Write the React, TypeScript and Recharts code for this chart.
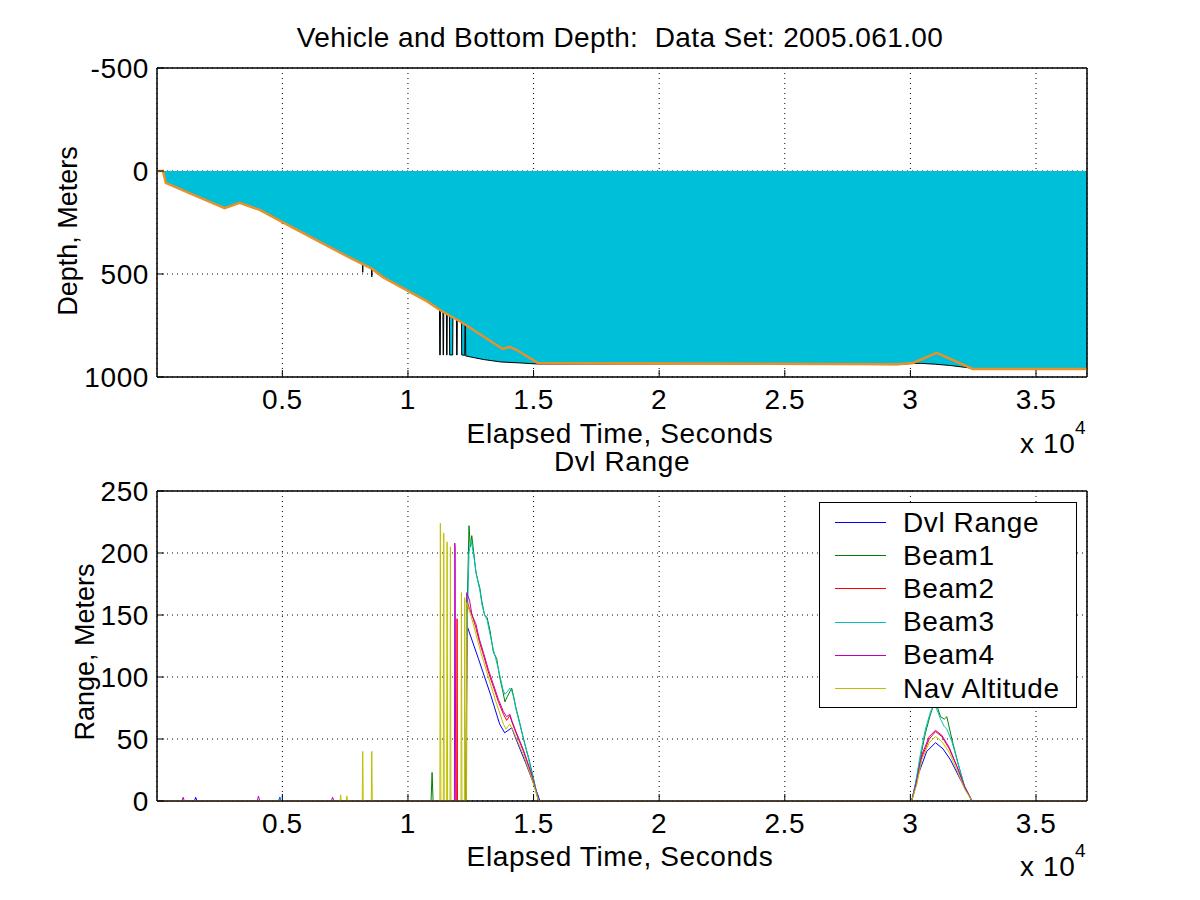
import React from 'react'
import { ComposedChart, Line, Area, XAxis, YAxis, CartesianGrid, Legend, ReferenceArea } from 'recharts'

const FONT = '"Liberation Sans", Arial, Helvetica, sans-serif'

const timeTicks = [5000, 10000, 15000, 20000, 25000, 30000, 35000]
const timeDomain = [10, 37030]
const depthTicks = [-500, 0, 500, 1000]
const depthDomain = [-500, 1000]
const rangeTicks = [0, 50, 100, 150, 200, 250]
const rangeDomain = [0, 250]

// [elapsed seconds, depth in meters]
const vehicleDepth = [
  [10, 0], [240, 0], [300, 25], [360, 58], [1300, 107], [2700, 180], [3300, 155], [4100, 189],
  [5000, 248], [7700, 422], [8200, 452], [8560, 474], [9000, 515], [10070, 587], [10750, 632],
  [11270, 675], [12180, 738], [13770, 864], [14050, 854], [14330, 869], [15170, 932],
  [22000, 934], [29500, 938], [30100, 932], [31050, 883], [32480, 961], [37030, 961],
]

const bottomDepth = [
  [10, 0], [240, 0], [300, 25], [360, 58], [1300, 107], [2700, 180], [3300, 155], [4100, 189],
  [5000, 248], [7700, 422], [8185, 451], [8200, 492], [8215, 452], [8545, 473], [8560, 514],
  [8575, 475], [9000, 515], [10070, 587], [10750, 632],
  [11255, 674], [11265, 893], [11285, 893], [11295, 677],
  [11390, 683], [11400, 893], [11415, 893], [11425, 686],
  [11530, 693], [11540, 893], [11555, 893], [11565, 695],
  [11650, 701], [11660, 893], [11780, 893], [11790, 710],
  [11930, 720], [11940, 893], [11955, 893], [11965, 722],
  [12130, 734], [12140, 893], [12260, 895], [12270, 745], [12290, 746],
  [12300, 898], [13000, 915], [13700, 927], [14500, 932], [15170, 937],
  [22000, 936], [29500, 940], [30100, 934], [30450, 934], [31000, 938], [31570, 944],
  [32365, 956], [32480, 961], [37030, 961],
]

// [elapsed seconds, range in meters]
const dvlRange = [
  [10, 0], [1500, 0], [1550, 3], [1600, 0], [4850, 0], [4900, 3], [4950, 0], [12320, 0],
  [12340, 142], [12800, 115], [13300, 85], [13650, 62], [13850, 55], [14130, 59], [14300, 50],
  [14700, 30], [15170, 5], [15250, 0], [30050, 0], [30250, 18], [30650, 40], [31000, 47],
  [31300, 42], [31600, 33], [32050, 15], [32450, 0], [37030, 0],
]

const beam1 = [
  [10, 0], [10920, 0], [10960, 23], [11000, 0], [12300, 0], [12310, 35], [12330, 76],
  [12360, 160], [12430, 222], [12480, 205], [12540, 214], [12620, 200], [12700, 185],
  [12780, 178], [12860, 172], [12950, 160], [13050, 150], [13150, 148], [13260, 138],
  [13400, 120], [13530, 115], [13650, 100], [13780, 88], [13860, 80], [13950, 84],
  [14050, 88], [14130, 91], [14200, 85], [14300, 75], [14450, 63], [14600, 50], [14800, 35],
  [15000, 18], [15200, 0], [30050, 0], [30200, 12], [30400, 35], [30600, 55], [30800, 70],
  [30950, 79], [31050, 77], [31200, 68], [31350, 66], [31450, 68], [31650, 50], [31900, 30],
  [32150, 12], [32450, 0], [37030, 0],
]

const beam2 = [
  [10, 0], [11940, 0], [11955, 147], [11970, 0], [12330, 0], [12345, 162], [12450, 155],
  [12550, 150], [12700, 140], [12850, 128], [13000, 118], [13200, 104], [13400, 92],
  [13600, 80], [13800, 70], [13930, 65], [14050, 69], [14150, 63], [14300, 55], [14600, 40],
  [14900, 22], [15200, 0], [30050, 0], [30250, 15], [30450, 35], [30750, 50], [31000, 56],
  [31250, 52], [31550, 42], [31850, 28], [32150, 12], [32450, 0], [37030, 0],
]

const beam3 = [
  [10, 0], [4850, 0], [4900, 2], [4950, 0], [12330, 0], [12340, 120], [12370, 150],
  [12430, 200], [12500, 210], [12560, 205], [12640, 195], [12720, 183], [12860, 170],
  [12950, 158], [13050, 150], [13150, 146], [13260, 135], [13400, 122], [13530, 112],
  [13650, 102], [13780, 90], [13860, 86], [13950, 88], [14050, 91], [14130, 89], [14200, 84],
  [14300, 74], [14450, 62], [14600, 50], [14800, 34], [15000, 17], [15200, 0], [30050, 0],
  [30200, 14], [30400, 38], [30600, 58], [30800, 72], [30950, 78], [31050, 74], [31200, 66],
  [31350, 60], [31450, 58], [31650, 48], [31900, 30], [32150, 12], [32450, 0], [37030, 0],
]

const beam4 = [
  [10, 0], [1000, 0], [1050, 3], [1100, 0], [4000, 0], [4050, 4], [4100, 0], [6950, 0],
  [7000, 3], [7050, 0], [11850, 0], [11862, 208], [11880, 205], [11900, 0], [12320, 0],
  [12335, 168], [12450, 162], [12550, 150], [12700, 143], [12850, 130], [13000, 120],
  [13200, 106], [13400, 94], [13600, 82], [13800, 72], [13930, 68], [14050, 70], [14150, 64],
  [14300, 56], [14600, 41], [14900, 23], [15200, 0], [30050, 0], [30250, 16], [30450, 37],
  [30750, 52], [31000, 57], [31250, 53], [31550, 43], [31850, 28], [32150, 12], [32450, 0],
  [37030, 0],
]

const navAltitude = [
  [10, 0], [7300, 0], [7320, 5], [7340, 0], [7550, 0], [7570, 4], [7590, 0], [8180, 0],
  [8200, 40], [8220, 0], [8540, 0], [8560, 40], [8580, 0],
  [11270, 0], [11290, 224], [11300, 112], [11310, 0],
  [11405, 0], [11425, 216], [11435, 110], [11445, 0],
  [11540, 0], [11558, 209], [11568, 108], [11578, 0],
  [11672, 0], [11690, 205], [11700, 105], [11710, 0],
  [12110, 0], [12128, 168], [12140, 80], [12150, 0],
  [12245, 0], [12261, 164], [12275, 0], [12325, 0],
  [12340, 160], [12500, 150], [12700, 135], [12900, 120], [13200, 100], [13500, 80],
  [13800, 62], [13900, 58], [14050, 62], [14200, 56], [14600, 37], [14900, 20], [15200, 0],
  [30050, 0], [30250, 13], [30450, 33], [30750, 47], [31000, 52], [31250, 48], [31550, 39],
  [31850, 25], [32150, 10], [32450, 0], [37030, 0],
]

const rangeSeries = [
  { name: 'Dvl Range', color: '#0000ff', rows: dvlRange },
  { name: 'Beam1', color: '#008000', rows: beam1 },
  { name: 'Beam2', color: '#ff0000', rows: beam2 },
  { name: 'Beam3', color: '#00bfbf', rows: beam3 },
  { name: 'Beam4', color: '#bf00bf', rows: beam4 },
  { name: 'Nav Altitude', color: '#bfbf00', rows: navAltitude },
]

const pts = (rows: number[][]) => rows.map(([t, v]) => ({ t, v }))

const fmtTime = (v: number) => String(v / 10000)
const tickStyle = { fill: '#000', fontSize: 28, fontFamily: FONT, letterSpacing: 0.6 }

function RangeLegend({ payload }: any) {
  const order = rangeSeries.map((s) => s.name)
  const items = [...(payload ?? [])].sort((a: any, b: any) => order.indexOf(a.value) - order.indexOf(b.value))
  return (
    <div
      style={{
        width: 258,
        height: 206,
        boxSizing: 'border-box',
        border: '1px solid #000',
        background: '#fff',
        paddingTop: 3,
        fontFamily: FONT,
        fontSize: 28,
        letterSpacing: 0.6,
        color: '#000',
      }}
    >
      {items.map((p: any) => (
        <div key={p.value} style={{ display: 'flex', alignItems: 'center', height: 33.2 }}>
          <span style={{ width: 51, height: 0, borderTop: `1px solid ${p.color}`, marginLeft: 15, marginRight: 17 }} />
          <span style={{ lineHeight: '30px', whiteSpace: 'nowrap' }}>{p.value}</span>
        </div>
      ))}
    </div>
  )
}

// MATLAB-style axes: dotted grid, box on, ticks pointing inward
function axesFor(yDomain: number[], yTicks: number[], reversed: boolean) {
  return [
    <CartesianGrid key="grid" stroke="#000" strokeDasharray="1 4" />,
    <XAxis key="xb" dataKey="t" type="number" domain={timeDomain} ticks={timeTicks} allowDataOverflow interval={0}
      tickFormatter={fmtTime} height={60} stroke="#000" tick={tickStyle} tickSize={-7} tickMargin={19} />,
    <XAxis key="xt" xAxisId="top" dataKey="t" orientation="top" type="number" domain={timeDomain} ticks={timeTicks}
      allowDataOverflow interval={0} height={1} stroke="#000" tick={false} tickSize={-7} />,
    <YAxis key="yl" type="number" domain={yDomain} ticks={yTicks} reversed={reversed} allowDataOverflow interval={0}
      width={80} stroke="#000" tick={tickStyle} tickSize={-7} tickMargin={15} />,
    <YAxis key="yr" yAxisId="right" orientation="right" type="number" domain={yDomain} ticks={yTicks}
      reversed={reversed} allowDataOverflow interval={0} width={1} stroke="#000" tick={false} tickSize={-7} />,
  ]
}

function DepthChart() {
  return (
    <ComposedChart width={1200} height={450} margin={{ top: 67, right: 112, bottom: 13, left: 77 }}>
      {axesFor(depthDomain, depthTicks, true)}
      <Area data={pts(bottomDepth)} dataKey="v" type="linear" baseValue={0} stroke="#000" strokeWidth={1}
        fill="#00bfd9" fillOpacity={1} dot={false} activeDot={false} isAnimationActive={false} />
      <Line data={pts(vehicleDepth)} dataKey="v" type="linear" stroke="#e8902a" strokeWidth={2.5}
        dot={false} activeDot={false} isAnimationActive={false} />
      <ReferenceArea x1={timeDomain[0]} x2={timeDomain[1]} y1={depthDomain[0]} y2={depthDomain[1]}
        fill="none" fillOpacity={0} stroke="#000" strokeWidth={1} ifOverflow="visible" />
    </ComposedChart>
  )
}

function RangeChart() {
  return (
    <ComposedChart width={1200} height={450} margin={{ top: 40, right: 112, bottom: 39, left: 77 }}>
      {axesFor(rangeDomain, rangeTicks, false)}
      {rangeSeries.map((s) => (
        <Line key={s.name} name={s.name} data={pts(s.rows)} dataKey="v" type="linear" stroke={s.color}
          strokeWidth={1} dot={false} activeDot={false} isAnimationActive={false} />
      ))}
      <ReferenceArea x1={timeDomain[0]} x2={timeDomain[1]} y1={rangeDomain[0]} y2={rangeDomain[1]}
        fill="none" fillOpacity={0} stroke="#000" strokeWidth={1} ifOverflow="visible" />
      <Legend layout="vertical" align="center" verticalAlign="middle" content={RangeLegend}
        wrapperStyle={{ left: 819, top: 52, width: 258, height: 206 }} />
    </ComposedChart>
  )
}

function Labels() {
  const t = { fontFamily: FONT, fill: '#000' }
  return (
    <svg width={1200} height={900} style={{ position: 'absolute', left: 0, top: 0, pointerEvents: 'none' }}>
      <text x={620} y={47} textAnchor="middle" fontSize={28} letterSpacing={0.4} style={{ whiteSpace: 'pre' }} {...t}>
        Vehicle and Bottom Depth:  Data Set: 2005.061.00
      </text>
      <text x={620} y={443} textAnchor="middle" fontSize={28} letterSpacing={0.6} {...t}>Elapsed Time, Seconds</text>
      <text x={1020} y={453} fontSize={28} letterSpacing={0.6} {...t}>x 10</text>
      <text x={1075} y={434} fontSize={19} {...t}>4</text>
      <text transform="translate(77,231) rotate(-90)" textAnchor="middle" fontSize={27} {...t}>Depth, Meters</text>

      <text x={622} y={471} textAnchor="middle" fontSize={28} letterSpacing={0.6} {...t}>Dvl Range</text>
      <text x={620} y={866} textAnchor="middle" fontSize={28} letterSpacing={0.6} {...t}>Elapsed Time, Seconds</text>
      <text x={1020} y={876} fontSize={28} letterSpacing={0.6} {...t}>x 10</text>
      <text x={1075} y={857} fontSize={19} {...t}>4</text>
      <text transform="translate(94,652) rotate(-90)" textAnchor="middle" fontSize={27} {...t}>Range, Meters</text>
    </svg>
  )
}

export default function App() {
  return (
    <div style={{ position: 'absolute', left: 0, top: 0, width: 1200, height: 900, background: '#fff', fontFamily: FONT }}>
      <div style={{ position: 'absolute', left: 0, top: 0 }}>
        <DepthChart />
      </div>
      <div style={{ position: 'absolute', left: 0, top: 450 }}>
        <RangeChart />
      </div>
      <Labels />
    </div>
  )
}
